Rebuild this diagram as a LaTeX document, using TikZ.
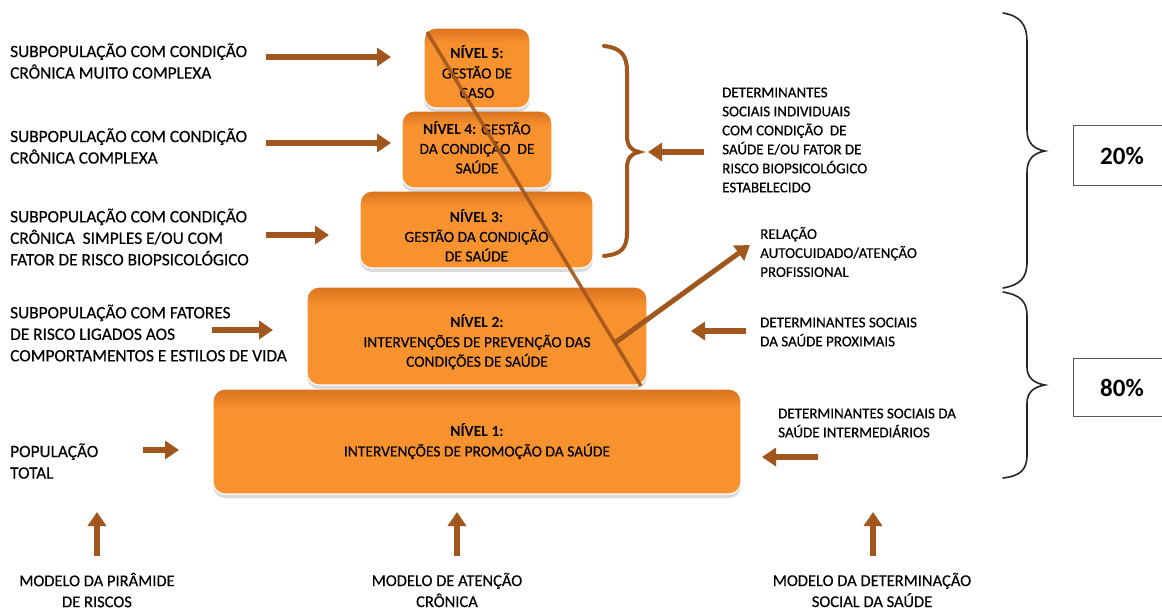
\documentclass[tikz,border=0pt]{standalone}
\usepackage{fontspec}
\setmainfont{Carlito}[UprightFeatures={FakeBold=0.3}]
\usetikzlibrary{arrows.meta,shadows,calc}
\definecolor{brn}{HTML}{A0561C}
\definecolor{orT}{HTML}{D9731F}
\definecolor{orB}{HTML}{F8922E}
% orange fill, darker only along the top edge
\pgfdeclareverticalshading{lvlshade}{100bp}{color(0bp)=(orB); color(25bp)=(orB); color(65bp)=(orB); color(75bp)=(orT); color(100bp)=(orT)}
\tikzset{
  lvl/.style={rectangle, rounded corners=12pt, draw=white, line width=1.2pt,
    shading=lvlshade, drop shadow={shadow xshift=0pt, shadow yshift=-4pt, opacity=.2, fill=black!70},
    inner sep=0pt},
  lvltxt/.style={inner sep=0pt, align=center, font=\fontsize{15.5}{19.5}\selectfont},
  barrow/.style={draw=brn, line width=5.5pt, -{Triangle[width=18pt,length=14pt]}},
  lbl/.style={align=left, anchor=west, inner sep=0pt, font=\fontsize{17.3}{21.5}\selectfont},
  rlbl/.style={align=left, anchor=west, inner sep=0pt, font=\fontsize{15}{19}\selectfont},
  blbl/.style={align=center, inner sep=0pt, font=\fontsize{16.5}{21}\selectfont},
  pct/.style={draw=black!65, line width=1pt, minimum width=97pt, minimum height=60pt,
    inner sep=0pt, font=\bfseries\fontsize{25}{28}\selectfont},
  bbrace/.style={draw=black!85, line width=1.6pt, line cap=round},
  obrace/.style={draw=brn, line width=4pt, line cap=round},
}
\begin{document}
\begin{tikzpicture}[x=1pt,y=-1pt]
\clip (0,0) rectangle (1162,610);
\fill[white] (0,0) rectangle (1162,610);

% pyramid levels
\node[lvl, minimum width=528pt, minimum height=105pt] (n1) at (477,441.5) {};
\node[lvl, minimum width=340pt, minimum height=98pt] (n2) at (477,336) {};
\node[lvl, minimum width=233pt, minimum height=77pt] (n3) at (476.5,229.5) {};
\node[lvl, minimum width=150pt, minimum height=77pt] (n4) at (477,149.5) {};
\node[lvl, minimum width=106pt, minimum height=80pt] (n5) at (477,68) {};

\node[lvltxt] (n1t) at ($(n1.center)+(0,0)$) {\textbf{NÍVEL 1:}\\INTERVENÇÕES DE PROMOÇÃO DA SAÚDE};
\node[lvltxt] (n2t) at ($(n2.center)+(0,6)$) {\textbf{NÍVEL 2:}\\INTERVENÇÕES DE PREVENÇÃO DAS\\CONDIÇÕES DE SAÚDE};
\node[lvltxt] (n3t) at ($(n3.center)+(0,6)$) {\textbf{NÍVEL 3:}\\GESTÃO DA CONDIÇÃO\\DE SAÚDE};
\node[lvltxt] (n4t) at ($(n4.center)+(0,-2)$) {\textbf{NÍVEL 4:} GESTÃO\\DA CONDIÇÃO\ \ DE\\SAÚDE};
\node[lvltxt] (n5t) at ($(n5.center)+(0,4)$) {\textbf{NÍVEL 5:}\\GESTÃO DE\\CASO};

% diagonal split of the pyramid and the branch towards the self-care label
\coordinate (dtop) at (427,32);
\coordinate (dbot) at (641,386);
\draw[draw=brn, line width=3.5pt, opacity=.9] (dtop) -- (dbot);
\coordinate (br) at ($(dtop)!0.878!(dbot)$);

% left-hand labels
\node[lbl] (t5) at (10,61) {SUBPOPULAÇÃO COM CONDIÇÃO\\CRÔNICA MUITO COMPLEXA};
\node[lbl] (t4) at (10,146) {SUBPOPULAÇÃO COM CONDIÇÃO\\CRÔNICA COMPLEXA};
\node[lbl] (t3) at (10,237) {SUBPOPULAÇÃO COM CONDIÇÃO\\CRÔNICA\ \ SIMPLES E/OU COM\\FATOR DE RISCO BIOPSICOLÓGICO};
\node[lbl] (t2) at (10,333) {SUBPOPULAÇÃO COM FATORES\\DE RISCO LIGADOS AOS\\COMPORTAMENTOS E ESTILOS DE VIDA};
\node[lbl] (t1) at (10,461) {POPULAÇÃO\\TOTAL};

\coordinate (a5s) at (266,57);  \coordinate (a5e) at (391,57);
\coordinate (a4s) at (266,143); \coordinate (a4e) at (391,143);
\coordinate (a3s) at (266,235); \coordinate (a3e) at (329,235);
\coordinate (a2s) at (212,330); \coordinate (a2e) at (273,330);
\coordinate (a1s) at (143,450); \coordinate (a1e) at (179,450);
\draw[barrow] (a5s) -- (a5e);
\draw[barrow] (a4s) -- (a4e);
\draw[barrow] (a3s) -- (a3e);
\draw[barrow] (a2s) -- (a2e);
\draw[barrow] (a1s) -- (a1e);

% right-hand labels
\node[rlbl] (r1) at (722,140) {DETERMINANTES\\SOCIAIS INDIVIDUAIS\\COM CONDIÇÃO\ \ DE\\SAÚDE E/OU FATOR DE\\RISCO BIOPSICOLÓGICO\\ESTABELECIDO};
\node[rlbl] (r2) at (760,252) {RELAÇÃO\\AUTOCUIDADO/ATENÇÃO\\PROFISSIONAL};
\node[rlbl] (r3) at (760,332) {DETERMINANTES SOCIAIS\\DA SAÚDE PROXIMAIS};
\node[rlbl] (r4) at (778,423) {DETERMINANTES SOCIAIS DA\\SAÚDE INTERMEDIÁRIOS};

% brown brace grouping levels 3 to 5
\draw[obrace] (604,46) .. controls (622,48) and (627,56) .. (627,72)
  -- (627,136) .. controls (627,146) and (632,151) .. (639,152)
  .. controls (632,153) and (627,158) .. (627,168)
  -- (627,232) .. controls (627,248) and (622,254) .. (604,256);
\coordinate (b1s) at (704,152); \coordinate (b1e) at (648,152);
\draw[barrow] (b1s) -- (b1e);

\coordinate (brtip) at (750,245);
\draw[barrow, line width=5pt] (br) -- (brtip);

\coordinate (b2s) at (746,331); \coordinate (b2e) at (691,331);
\draw[barrow] (b2s) -- (b2e);
\coordinate (b3s) at (818,457); \coordinate (b3e) at (762,457);
\draw[barrow] (b3s) -- (b3e);

% black braces and shares
\draw[bbrace] (1003,13) .. controls (1020,16) and (1027,24) .. (1027,42)
  -- (1027,130) .. controls (1027,142) and (1033,149) .. (1045,151)
  .. controls (1033,153) and (1027,160) .. (1027,172)
  -- (1027,262) .. controls (1027,278) and (1020,285) .. (1003,288);
\draw[bbrace] (1003,292) .. controls (1020,295) and (1027,301) .. (1027,316)
  -- (1027,367) .. controls (1027,377) and (1033,383) .. (1045,385)
  .. controls (1033,387) and (1027,393) .. (1027,403)
  -- (1027,455) .. controls (1027,470) and (1020,476) .. (1003,478);
\node[pct, anchor=north west] (p20) at (1073,125) {20\%};
\node[pct, anchor=north west, minimum height=58pt] (p80) at (1073,358) {80\%};

% models at the bottom
\node[blbl] (m1) at (97,590) {MODELO DA PIRÂMIDE\\DE RISCOS};
\node[blbl] (m2) at (447,590) {MODELO DE ATENÇÃO\\CRÔNICA};
\node[blbl] (m3) at (872,590) {MODELO DA DETERMINAÇÃO\\SOCIAL DA SAÚDE};
\coordinate (u1s) at (97,556);  \coordinate (u1e) at (97,512);
\coordinate (u2s) at (457,556); \coordinate (u2e) at (457,512);
\coordinate (u3s) at (873,556); \coordinate (u3e) at (873,512);
\draw[barrow] (u1s) -- (u1e);
\draw[barrow] (u2s) -- (u2e);
\draw[barrow] (u3s) -- (u3e);
\end{tikzpicture}
\end{document}
